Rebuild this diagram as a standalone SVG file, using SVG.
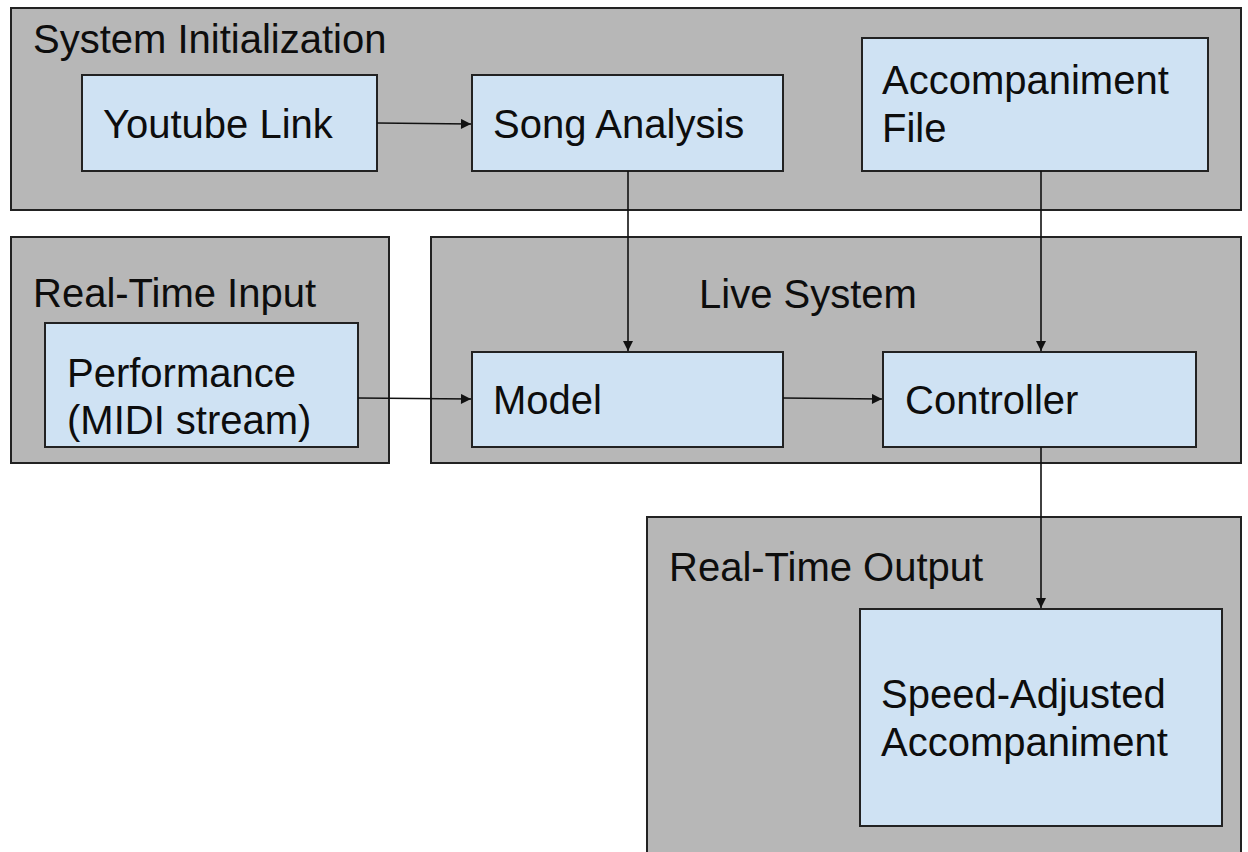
<svg xmlns="http://www.w3.org/2000/svg" width="1248" height="852" viewBox="0 0 1248 852">
  <style>
    .group { fill: #b7b7b7; stroke: #222; stroke-width: 2; }
    .box { fill: #cfe2f3; stroke: #222; stroke-width: 2; }
    .label { font-family: "Liberation Sans", Arial, sans-serif; font-size: 40px; fill: #0d0d0d; }
    .wire { stroke: #111; stroke-width: 1.6; fill: none; marker-end: url(#arrow); }
  </style>
  <defs>
    <marker id="arrow" viewBox="0 0 10 10" refX="10" refY="5" markerWidth="13" markerHeight="10" markerUnits="userSpaceOnUse" orient="auto">
      <path d="M0,0 L10,5 L0,10 z" fill="#111"/>
    </marker>
  </defs>
  <rect width="1248" height="852" fill="#ffffff"/>

  <!-- Containers -->
  <g id="system-initialization">
    <rect class="group" x="11" y="8" width="1230" height="202"/>
    <text class="label" x="33" y="53">System Initialization</text>
  </g>
  <g id="real-time-input">
    <rect class="group" x="11" y="237" width="378" height="226"/>
    <text class="label" x="33" y="307">Real-Time Input</text>
  </g>
  <g id="live-system">
    <rect class="group" x="431" y="237" width="810" height="226"/>
    <text class="label" x="699" y="308">Live System</text>
  </g>
  <g id="real-time-output">
    <rect class="group" x="647" y="517" width="594" height="345"/>
    <text class="label" x="669" y="581">Real-Time Output</text>
  </g>

  <!-- Nodes -->
  <g id="youtube-link">
    <rect class="box" x="82" y="75" width="295" height="96"/>
    <text class="label" x="103" y="138">Youtube Link</text>
  </g>
  <g id="song-analysis">
    <rect class="box" x="472" y="75" width="311" height="96"/>
    <text class="label" x="493" y="138">Song Analysis</text>
  </g>
  <g id="accompaniment-file">
    <rect class="box" x="862" y="38" width="346" height="133"/>
    <text class="label" x="882" y="94">Accompaniment</text>
    <text class="label" x="882" y="142">File</text>
  </g>
  <g id="performance">
    <rect class="box" x="45" y="323" width="313" height="124"/>
    <text class="label" x="67" y="387">Performance</text>
    <text class="label" x="67" y="434">(MIDI stream)</text>
  </g>
  <g id="model">
    <rect class="box" x="472" y="352" width="311" height="95"/>
    <text class="label" x="493" y="414">Model</text>
  </g>
  <g id="controller">
    <rect class="box" x="883" y="352" width="313" height="95"/>
    <text class="label" x="905" y="414">Controller</text>
  </g>
  <g id="speed-adjusted-accompaniment">
    <rect class="box" x="860" y="609" width="362" height="217"/>
    <text class="label" x="881" y="708">Speed-Adjusted</text>
    <text class="label" x="881" y="756">Accompaniment</text>
  </g>

  <!-- Connectors -->
  <g id="connectors">
    <line class="wire" x1="377" y1="123" x2="471" y2="124"/>
    <line class="wire" x1="628" y1="171" x2="628" y2="351"/>
    <line class="wire" x1="1041" y1="171" x2="1041" y2="351"/>
    <line class="wire" x1="358" y1="398" x2="471" y2="399"/>
    <line class="wire" x1="783" y1="398" x2="882" y2="399"/>
    <line class="wire" x1="1041" y1="447" x2="1041" y2="608"/>
  </g>
</svg>
